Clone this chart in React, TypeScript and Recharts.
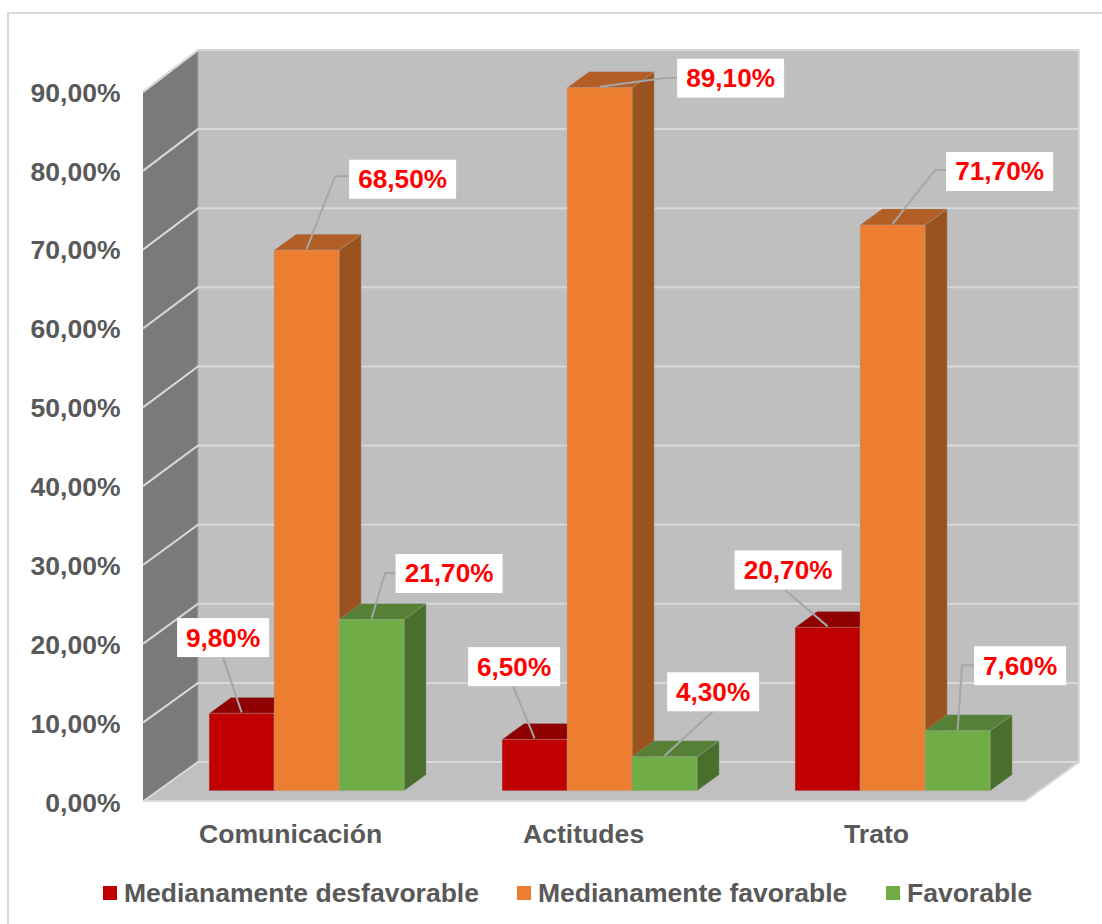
import { Bar, BarChart, CartesianGrid, LabelList, Legend, XAxis, YAxis } from "recharts";

const CATEGORIES = ["Comunicación", "Actitudes", "Trato"];
const DESFAVORABLE = [9.8, 6.5, 20.7];
const MED_FAVORABLE = [68.5, 89.1, 71.7];
const FAVORABLE = [21.7, 4.3, 7.6];
const Y_TICKS = [0, 10, 20, 30, 40, 50, 60, 70, 80, 90];

const data = CATEGORIES.map((name, i) => ({
  name,
  desfavorable: DESFAVORABLE[i],
  medFavorable: MED_FAVORABLE[i],
  favorable: FAVORABLE[i],
}));

const FONT = "'Liberation Sans', Arial, sans-serif";
const TEXT = "#595959";
const DEPTH_X = 22;
const DEPTH_Y = 16;
const BASE_Y = 790.7;
const PLOT_H = 710.1;

// label box centre and leader line, relative to the top middle of the bar
const LAYOUT_RED = [
  { box: [-18.5, -75.8], line: [[-18.5, -56]] },
  { box: [-20.5, -72.8], line: [[-21.5, -53.3]] },
  { box: [-39.5, -57.4], line: [[-42.5, -37.4]] },
];
const LAYOUT_ORANGE = [
  { box: [96, -71], line: [[28.5, -74], [42.5, -74]] },
  { box: [131, -9.5], line: [[67.5, -10], [77.5, -10]] },
  { box: [107, -53.5], line: [[42.5, -55], [53.5, -55]] },
];
const LAYOUT_GREEN = [
  { box: [77.5, -46], line: [[13.5, -46.5], [23.5, -46.5]] },
  { box: [48.5, -65], line: [[48.5, -45.6]] },
  { box: [62.5, -65], line: [[4.5, -65.6], [16.5, -65.6]] },
];

const pct = (v: number) => `${v.toFixed(2).replace(".", ",")}%`;

// the 3D box behind the chart
function Walls() {
  return (
    <svg width={1102} height={924} style={{ position: "absolute", left: 0, top: 0 }}>
      <polygon points="143,92 198,50 198,762 143,801" fill="#7a7a7a" />
      <rect x={198} y={50} width={881} height={712} fill="#bfbfbf" />
      <polygon points="143,801 198,762 1079,762 1025,801" fill="#c0c0c0" />
      <polyline points="143,92 198,50 1079,50 1079,762 1025,801 143,801" fill="none" stroke="#d9d9d9" strokeWidth={2} />
      <line x1={198} y1={50} x2={198} y2={762} stroke="#a8a8a8" strokeWidth={1} />
    </svg>
  );
}

function GridLine(props: any) {
  const h = BASE_Y - props.y1;
  const front = 801.5 - h * (709.5 / PLOT_H);
  const back = 762 - h * (712 / PLOT_H);
  return (
    <polyline
      key={`grid-${props.y1}`}
      points={`143,${front} 198,${back} 1079,${back}`}
      fill="none"
      stroke="#d9d9d9"
      strokeWidth={2}
    />
  );
}

function bar3d(side: string, top: string) {
  return (props: any) => {
    const { x, y, width, height, fill } = props;
    const r = x + width;
    const b = y + height;
    const edge = { stroke: "#a6a6a6", strokeOpacity: 0.35, strokeWidth: 1 };
    return (
      <g>
        <polygon
          points={`${r},${y} ${r + DEPTH_X},${y - DEPTH_Y} ${r + DEPTH_X},${b - DEPTH_Y} ${r},${b}`}
          fill={side}
          {...edge}
        />
        <polygon
          points={`${x},${y} ${x + DEPTH_X},${y - DEPTH_Y} ${r + DEPTH_X},${y - DEPTH_Y} ${r},${y}`}
          fill={top}
          {...edge}
        />
        <rect x={x} y={y} width={width} height={height} fill={fill} {...edge} />
      </g>
    );
  };
}

function valueLabel(layout: typeof LAYOUT_RED) {
  return (props: any) => {
    const { x, y, width, value, index } = props;
    const cx = x + width / 2;
    const { box, line } = layout[index];
    const text = pct(value);
    const w = text.length > 5 ? 107 : 92;
    const points = [[0, -1], ...line].map(([dx, dy]) => `${cx + dx},${y + dy}`).join(" ");
    return (
      <g>
        <polyline points={points} fill="none" stroke="#a6a6a6" strokeWidth={2} />
        <rect x={cx + box[0] - w / 2} y={y + box[1] - 19.5} width={w} height={39} fill="#ffffff" />
        <text
          x={cx + box[0]}
          y={y + box[1] + 9}
          textAnchor="middle"
          fontFamily={FONT}
          fontWeight="bold"
          fontSize={26.2}
          fill="#ff0000"
        >
          {text}
        </text>
      </g>
    );
  };
}

function YTick({ y, payload }: any) {
  return (
    <text x={120.5} y={y + 21} textAnchor="end" fontFamily={FONT} fontWeight="bold" fontSize={26.5} fill={TEXT}>
      {pct(payload.value)}
    </text>
  );
}

function XTick({ x, payload }: any) {
  return (
    <text x={x - 16.5} y={843} textAnchor="middle" fontFamily={FONT} fontWeight="bold" fontSize={26.6} fill={TEXT}>
      {payload.value}
    </text>
  );
}

function LegendRow({ payload }: any) {
  const lefts = [103, 517, 886];
  return (
    <div style={{ position: "relative", width: 1102, height: 40 }}>
      {(payload || []).map((entry: any, i: number) => (
        <div
          key={entry.value}
          style={{
            position: "absolute",
            left: lefts[i],
            top: 0,
            height: 40,
            display: "flex",
            alignItems: "center",
            whiteSpace: "nowrap",
            fontFamily: FONT,
            fontWeight: "bold",
            fontSize: 26.5,
            color: TEXT,
          }}
        >
          <span style={{ width: 14, height: 14, marginRight: 7, background: entry.color, display: "inline-block" }} />
          {entry.value}
        </div>
      ))}
    </div>
  );
}

export default function App() {
  return (
    <div style={{ position: "absolute", left: 0, top: 0, width: 1102, height: 924, background: "#ffffff" }}>
      <div
        style={{
          position: "absolute",
          left: 7,
          top: 12,
          width: 1095,
          height: 912,
          borderLeft: "2px solid #d9d9d9",
          borderTop: "2px solid #d9d9d9",
          boxSizing: "border-box",
        }}
      />
      <Walls />
      <BarChart
        width={1102}
        height={924}
        data={data}
        margin={{ top: BASE_Y - PLOT_H, right: 62.4, bottom: 33.3, left: 0 }}
        barCategoryGap={48.5}
        barGap={0}
        style={{ position: "absolute", left: 0, top: 0 }}
      >
        <CartesianGrid horizontal={GridLine} vertical={false} />
        <XAxis dataKey="name" height={60} axisLine={false} tickLine={false} tick={XTick} interval={0} />
        <YAxis width={160.6} domain={[0, 90]} ticks={Y_TICKS} axisLine={false} tickLine={false} tick={YTick} interval={0} />
        <Legend
          verticalAlign="bottom"
          content={LegendRow}
          itemSorter={null}
          wrapperStyle={{ left: 0, top: 873, width: 1102, height: 40 }}
        />
        <Bar
          dataKey="desfavorable"
          name="Medianamente desfavorable"
          fill="#c00000"
          shape={bar3d("#8f0000", "#8f0000")}
          isAnimationActive={false}
        >
          <LabelList dataKey="desfavorable" content={valueLabel(LAYOUT_RED)} />
        </Bar>
        <Bar
          dataKey="medFavorable"
          name="Medianamente favorable"
          fill="#ed7d31"
          shape={bar3d("#9a521e", "#b25e24")}
          isAnimationActive={false}
        >
          <LabelList dataKey="medFavorable" content={valueLabel(LAYOUT_ORANGE)} />
        </Bar>
        <Bar
          dataKey="favorable"
          name="Favorable"
          fill="#70ad47"
          shape={bar3d("#4a6e2b", "#558036")}
          isAnimationActive={false}
        >
          <LabelList dataKey="favorable" content={valueLabel(LAYOUT_GREEN)} />
        </Bar>
      </BarChart>
    </div>
  );
}
